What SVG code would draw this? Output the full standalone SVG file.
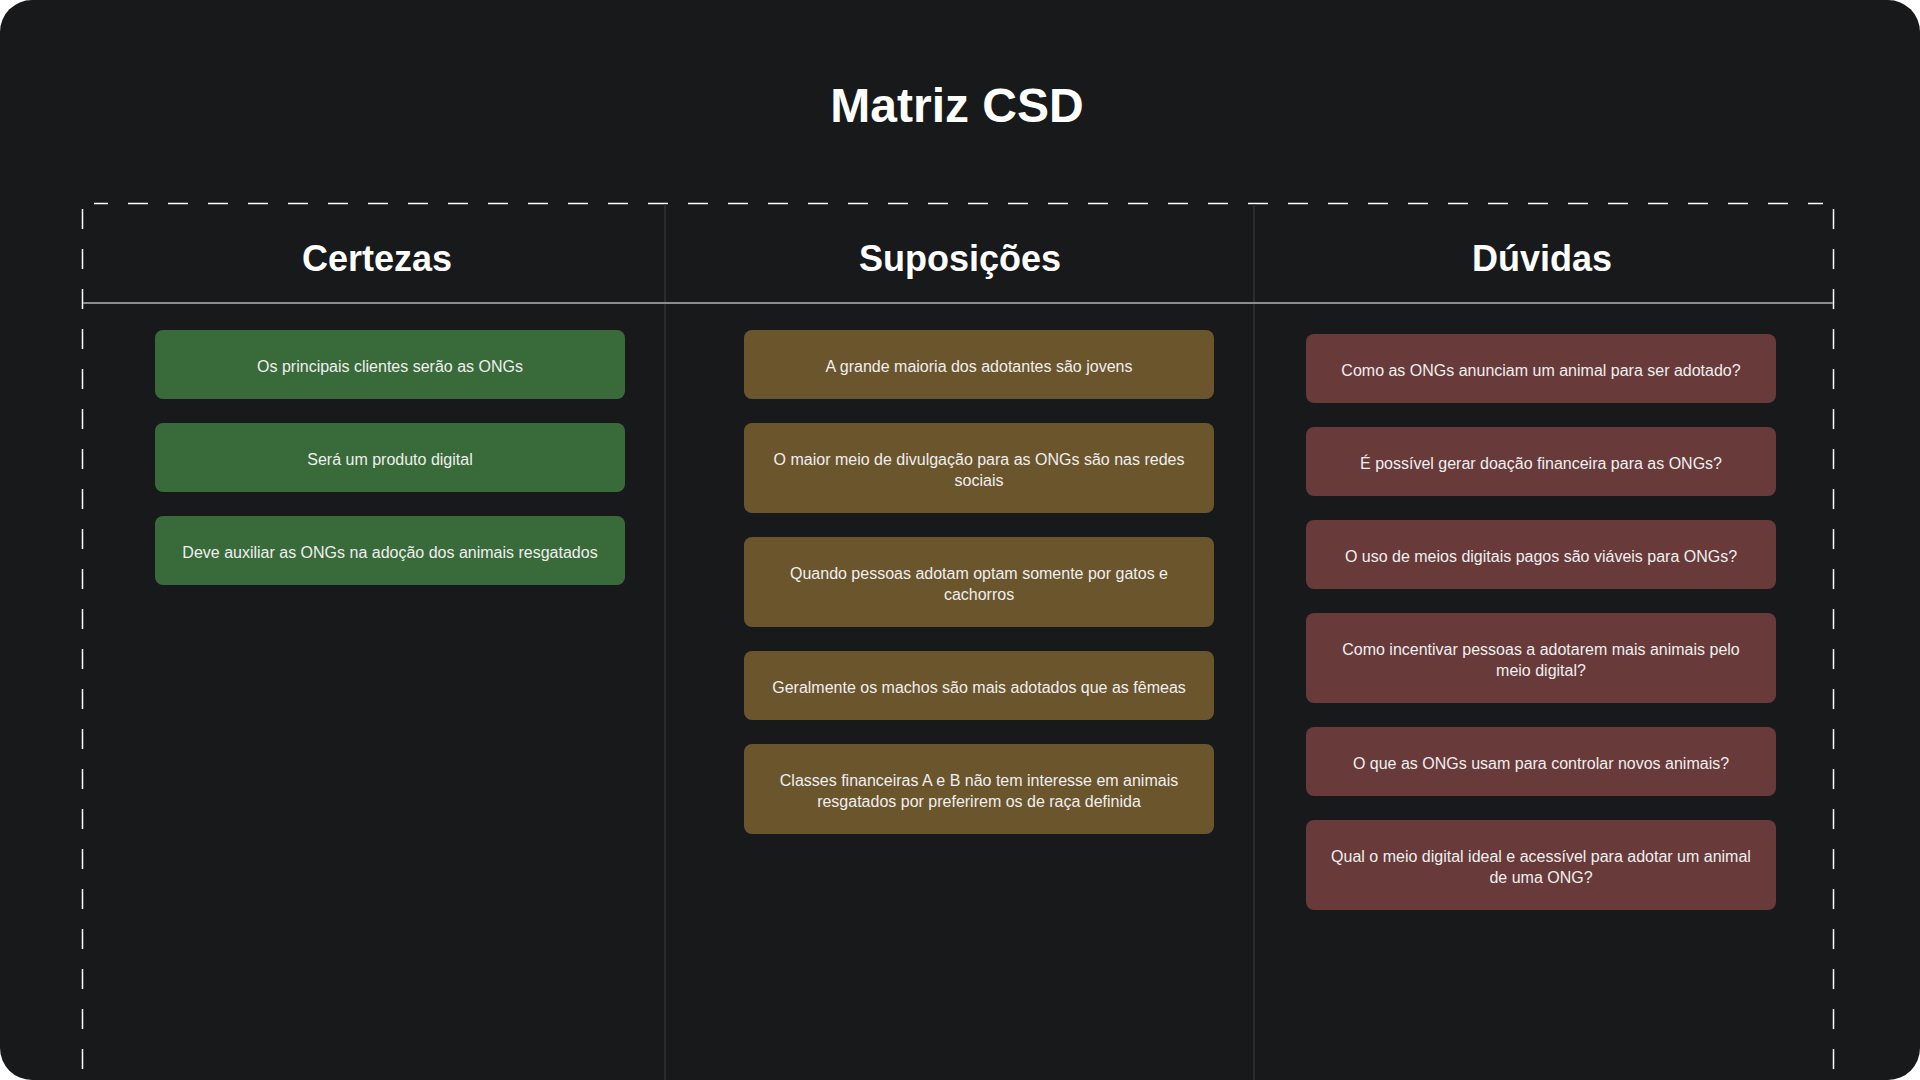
<svg xmlns="http://www.w3.org/2000/svg" width="1920" height="1080" viewBox="0 0 1920 1080">
  <style>
    .title { font-family: "Liberation Sans", Arial, sans-serif; font-weight: bold; font-size: 48px; fill: #ffffff; text-anchor: middle; }
    .head { font-family: "Liberation Sans", Arial, sans-serif; font-weight: bold; font-size: 36px; fill: #ffffff; text-anchor: middle; }
    .txt { font-family: "Liberation Sans", Arial, sans-serif; font-size: 16px; fill: #efefef; text-anchor: middle; }
    .g { fill: #396a3a; }
    .b { fill: #6b552d; }
    .r { fill: #683a3a; }
    .dash { fill: none; stroke: #ffffff; stroke-width: 1.5; stroke-dasharray: 20 20; }
    .div { stroke: #313235; stroke-width: 1.5; }
  </style>
  <rect x="0" y="0" width="1920" height="1080" fill="#ffffff"/>
  <rect x="0" y="0" width="1920" height="1080" rx="32" ry="32" fill="#18191b"/>

  <text class="title" x="957" y="122">Matriz CSD</text>

  <g id="frame">
    <path class="dash" d="M94,203.5 H1823" stroke-dashoffset="6"/>
    <path class="dash" d="M82.5,209 V1090"/>
    <path class="dash" d="M1833.5,209 V1090"/>
    <line class="div" x1="665" y1="204" x2="665" y2="1080"/>
    <line class="div" x1="1254" y1="204" x2="1254" y2="1080"/>
    <line x1="83" y1="303" x2="1833" y2="303" stroke="#8c8c8c" stroke-width="2"/>
  </g>

  <g id="headers">
    <text class="head" x="377" y="271">Certezas</text>
    <text class="head" x="960" y="271">Suposições</text>
    <text class="head" x="1542" y="271">Dúvidas</text>
  </g>

  <g id="connectors"></g>

  <g id="certezas">
    <g id="c1"><rect class="g" x="155" y="330" width="470" height="69" rx="8"/><text class="txt" x="390" y="371.5">Os principais clientes serão as ONGs</text></g>
    <g id="c2"><rect class="g" x="155" y="423" width="470" height="69" rx="8"/><text class="txt" x="390" y="464.5">Será um produto digital</text></g>
    <g id="c3"><rect class="g" x="155" y="516" width="470" height="69" rx="8"/><text class="txt" x="390" y="557.5">Deve auxiliar as ONGs na adoção dos animais resgatados</text></g>
  </g>

  <g id="suposicoes">
    <g id="s1"><rect class="b" x="744" y="330" width="470" height="69" rx="8"/><text class="txt" x="979" y="371.5">A grande maioria dos adotantes são jovens</text></g>
    <g id="s2"><rect class="b" x="744" y="423" width="470" height="90" rx="8"/><text class="txt" x="979" y="465">O maior meio de divulgação para as ONGs são nas redes</text><text class="txt" x="979" y="485.8">sociais</text></g>
    <g id="s3"><rect class="b" x="744" y="537" width="470" height="90" rx="8"/><text class="txt" x="979" y="579">Quando pessoas adotam optam somente por gatos e</text><text class="txt" x="979" y="599.8">cachorros</text></g>
    <g id="s4"><rect class="b" x="744" y="651" width="470" height="69" rx="8"/><text class="txt" x="979" y="692.5">Geralmente os machos são mais adotados que as fêmeas</text></g>
    <g id="s5"><rect class="b" x="744" y="744" width="470" height="90" rx="8"/><text class="txt" x="979" y="786">Classes financeiras A e B não tem interesse em animais</text><text class="txt" x="979" y="806.8">resgatados por preferirem os de raça definida</text></g>
  </g>

  <g id="duvidas">
    <g id="d1"><rect class="r" x="1306" y="334" width="470" height="69" rx="8"/><text class="txt" x="1541" y="375.5">Como as ONGs anunciam um animal para ser adotado?</text></g>
    <g id="d2"><rect class="r" x="1306" y="427" width="470" height="69" rx="8"/><text class="txt" x="1541" y="468.5">É possível gerar doação financeira para as ONGs?</text></g>
    <g id="d3"><rect class="r" x="1306" y="520" width="470" height="69" rx="8"/><text class="txt" x="1541" y="561.5">O uso de meios digitais pagos são viáveis para ONGs?</text></g>
    <g id="d4"><rect class="r" x="1306" y="613" width="470" height="90" rx="8"/><text class="txt" x="1541" y="655">Como incentivar pessoas a adotarem mais animais pelo</text><text class="txt" x="1541" y="675.8">meio digital?</text></g>
    <g id="d5"><rect class="r" x="1306" y="727" width="470" height="69" rx="8"/><text class="txt" x="1541" y="768.5">O que as ONGs usam para controlar novos animais?</text></g>
    <g id="d6"><rect class="r" x="1306" y="820" width="470" height="90" rx="8"/><text class="txt" x="1541" y="862">Qual o meio digital ideal e acessível para adotar um animal</text><text class="txt" x="1541" y="882.8">de uma ONG?</text></g>
  </g>
</svg>
